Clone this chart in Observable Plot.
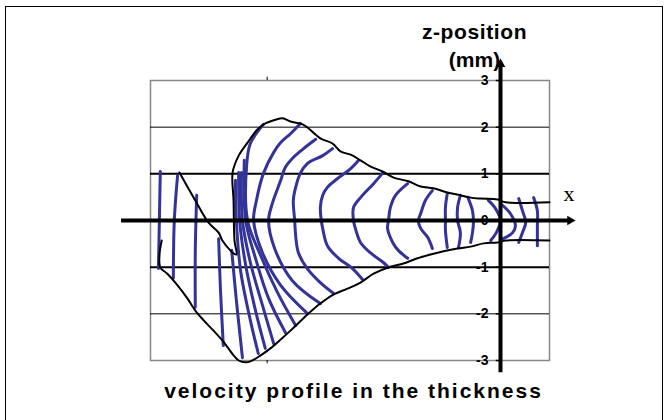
<!DOCTYPE html>
<html><head><meta charset="utf-8">
<script src="https://cdn.jsdelivr.net/npm/d3@7"></script>
<script src="https://cdn.jsdelivr.net/npm/@observablehq/plot@0.6"></script>
<style>
html,body{margin:0;padding:0;background:#fff;overflow:hidden;}
#wrap{position:relative;width:668px;height:420px;overflow:hidden;}
#border{position:absolute;left:5px;top:6px;width:658px;height:440px;border:1px solid #000;box-sizing:border-box;pointer-events:none;}
#chart svg{display:block;}
</style></head><body>
<div id="wrap"><div id="chart"></div><div id="border"></div></div>
<script>
// ---- axis / tick data ----
const zTicks = [3, 2, 1, 0, -1, -2, -3];
const gridMajor = [1, -1];
const gridMinor = [2, -2];
const xTicks = [-5];
const xDomain = [-7.5, 1.05];
const zDomain = [-3, 3];
const xAxisExtent = [-8.12, 1.49];
const zAxisExtent = [-3.26, 3.35];

// ---- velocity profiles (x, z in mm) ----
const sideProfiles = [
  [[-7.29,1.05],[-7.31,0],[-7.33,-1.03]],
  [[-6.92,0.96],[-6.99,0],[-7.01,-1.24]],
  [[-6.51,0.54],[-6.54,-0.64],[-6.54,-1.86]],
  [[-6.04,-0.39],[-6.00,-1.50],[-5.94,-2.68]],
  [[-5.76,-0.64],[-5.66,-1.71],[-5.53,-2.94]]
];
const fanProfiles = [
  [[-5.68,0.86],[-5.66,0],[-5.57,-1.07],[-5.36,-2.14],[-5.19,-2.85]],
  [[-5.61,1.03],[-5.59,0],[-5.46,-0.96],[-5.25,-1.93],[-5.04,-2.74]],
  [[-5.55,1.03],[-5.53,0],[-5.36,-0.90],[-5.10,-1.82],[-4.86,-2.64]],
  [[-5.49,1.29],[-5.46,0],[-5.25,-0.81],[-4.97,-1.67],[-4.61,-2.40]],
  [[-5.08,2.06],[-5.36,1.65],[-5.44,1.18],[-5.42,0],[-5.14,-0.75],[-4.78,-1.54],[-4.39,-2.25]],
  [[-4.29,2.08],[-4.50,1.86],[-4.71,1.67],[-4.86,1.46],[-5.08,1.01],[-5.23,0.43],[-5.29,0],[-5.10,-0.69],[-4.71,-1.39],[-4.14,-1.99]],
  [[-3.96,1.74],[-4.22,1.54],[-4.44,1.35],[-4.61,1.14],[-4.71,0.86],[-4.89,0.36],[-4.97,0],[-4.84,-0.60],[-4.46,-1.29],[-3.86,-1.78]]
];
const archProfiles = [
  [[-3.60,1.54],[-3.81,1.39],[-4.14,1.22],[-4.29,1.01],[-4.39,0.71],[-4.44,0.43],[-4.41,0],[-4.39,-0.32],[-4.33,-0.69],[-4.14,-1.03],[-3.86,-1.33],[-3.58,-1.56]],
  [[-3.04,1.29],[-3.21,1.11],[-3.49,0.90],[-3.71,0.71],[-3.81,0.54],[-3.86,0.28],[-3.84,0],[-3.81,-0.17],[-3.71,-0.54],[-3.47,-0.81],[-3.17,-1.03],[-2.96,-1.26]],
  [[-2.53,1.01],[-2.72,0.79],[-3.00,0.49],[-3.15,0.28],[-3.15,0],[-3.11,-0.17],[-3.00,-0.47],[-2.79,-0.69],[-2.51,-0.90],[-2.40,-1.01]],
  [[-1.99,0.79],[-2.25,0.54],[-2.36,0.28],[-2.40,0],[-2.42,-0.17],[-2.31,-0.47],[-2.19,-0.64],[-1.99,-0.81]],
  [[-1.46,0.64],[-1.61,0.43],[-1.71,0.15],[-1.76,0],[-1.71,-0.17],[-1.56,-0.36],[-1.46,-0.60]],
  [[-1.14,0.58],[-1.18,0.28],[-1.18,0],[-1.18,-0.21],[-1.14,-0.58]],
  [[-0.86,0.54],[-0.92,0.28],[-0.92,0],[-0.86,-0.26],[-0.90,-0.58]]
];
const tipProfiles = [
  [[-0.69,0.47],[-0.60,0.21],[-0.58,-0.04],[-0.60,-0.26],[-0.64,-0.47]],
  [[-0.26,0.43],[-0.11,0.26],[0,0],[-0.09,-0.26],[-0.21,-0.43]],
  [[0,0.36],[0.21,0.15],[0.32,-0.11],[0.26,-0.26],[0.06,-0.39]],
  [[0.39,0.47],[0.47,0.21],[0.54,-0.04],[0.47,-0.26],[0.39,-0.47]],
  [[0.71,0.49],[0.79,0.21],[0.79,-0.11],[0.79,-0.54]]
];

// ---- part outline (x, z in mm) ----
const outlineTop = [
  [-6.88,1.03],[-6.54,0.43],[-6.26,-0.04],[-6.04,-0.26],[-5.96,-0.43],[-5.79,-0.64],[-5.66,-0.73],
  [-5.70,-0.43],[-5.72,0.43],[-5.74,1.03],[-5.61,1.39],[-5.42,1.67],[-5.21,1.95],[-5.04,2.08],
  [-4.82,2.16],[-4.67,2.19],[-4.50,2.12],[-4.24,2.06],[-4.11,1.97],[-3.86,1.76],[-3.60,1.65],
  [-3.43,1.48],[-3.21,1.41],[-3.00,1.29],[-2.79,1.16],[-2.53,1.05],[-2.29,0.92],[-1.97,0.84],
  [-1.71,0.73],[-1.44,0.69],[-1.14,0.60],[-0.86,0.54],[-0.64,0.49],[-0.43,0.47],[-0.06,0.45],
  [0.11,0.39],[1.05,0.39]
];
const outlineBottom = [
  [1.05,-0.43],[0.11,-0.43],[-0.06,-0.47],[-0.36,-0.49],[-0.64,-0.56],[-0.92,-0.60],[-1.22,-0.66],
  [-1.50,-0.73],[-1.78,-0.81],[-2.08,-0.92],[-2.36,-0.99],[-2.72,-1.14],[-3.00,-1.33],[-3.28,-1.46],
  [-3.58,-1.59],[-3.86,-1.78],[-4.11,-1.99],[-4.29,-2.16],[-4.50,-2.36],[-4.71,-2.55],[-4.93,-2.74],
  [-5.14,-2.89],[-5.36,-3.02],[-5.46,-3.04],[-5.61,-3.00],[-5.72,-2.89],[-5.83,-2.74],[-5.96,-2.57],
  [-6.15,-2.36],[-6.36,-2.14],[-6.54,-1.93],[-6.71,-1.67],[-6.92,-1.39],[-7.14,-1.14],[-7.29,-1.01],
  [-7.31,-0.75],[-7.26,-0.43]
];

const titleLines = ["z-position", "(mm)"];
const captionText = "velocity profile in the thickness";
const xLabel = "x";

const profiles = [...sideProfiles, ...fanProfiles, ...archProfiles, ...tipProfiles];
const profileRows = profiles.flatMap((pts, i) => pts.map(([x, z]) => ({id: i, x, z})));

const BLUE = "#333399";
const SANS = "Liberation Sans, Arial, sans-serif";

const plot = Plot.plot({
  width: 668, height: 420,
  marginLeft: 150, marginRight: 119, marginTop: 80, marginBottom: 60,
  x: {domain: xDomain, axis: null},
  y: {domain: zDomain, axis: null},
  style: {background: "white", overflow: "visible"},
  marks: [
    Plot.frame({stroke: "#888", strokeWidth: 1.5}),
    Plot.ruleY(gridMinor, {stroke: "black", strokeWidth: 1}),
    Plot.ruleY(gridMajor, {stroke: "black", strokeWidth: 2}),
    Plot.ruleX(xTicks, {y1: 3, y2: 3.07, stroke: "black", strokeWidth: 1}),
    Plot.ruleX(xTicks, {y1: -3, y2: -3.07, stroke: "black", strokeWidth: 1}),
    Plot.line(profileRows, {x: "x", y: "z", z: "id", stroke: BLUE, strokeWidth: 3, curve: "catmull-rom", strokeLinecap: "round"}),
    Plot.line(outlineTop, {x: d => d[0], y: d => d[1], stroke: "black", strokeWidth: 2, curve: "catmull-rom"}),
    Plot.line(outlineBottom, {x: d => d[0], y: d => d[1], stroke: "black", strokeWidth: 2, curve: "catmull-rom"}),
    // axes
    Plot.ruleY([0], {x1: xAxisExtent[0], x2: xAxisExtent[1], stroke: "black", strokeWidth: 4}),
    Plot.ruleX([0], {y1: zAxisExtent[0], y2: zAxisExtent[1], stroke: "black", strokeWidth: 4}),
    Plot.dot([0], {x: xAxisExtent[1], y: 0, symbol: "triangle", r: 3.6, fill: "black", stroke: "none", rotate: 90}),
    Plot.dot([0], {x: 0, y: zAxisExtent[1], symbol: "triangle", r: 3.6, fill: "black", stroke: "none"}),
    Plot.ruleY(zTicks, {x1: -0.09, x2: 0, stroke: "black", strokeWidth: 1.5}),
    Plot.text(zTicks, {x: 0, y: d => d, text: d => String(d), textAnchor: "end", lineAnchor: "middle", dx: -12, fontSize: 14, fontWeight: "bold", fontFamily: SANS, fill: "black"}),
    Plot.text([titleLines[0]], {frameAnchor: "top", lineAnchor: "middle", text: d => d, dx: 124.5, dy: -48.7, fontSize: 21, fontWeight: "bold", fontFamily: SANS, fill: "black"}),
    Plot.text([titleLines[1]], {frameAnchor: "top", lineAnchor: "middle", text: d => d, dx: 124.5, dy: -20.7, fontSize: 21, fontWeight: "bold", fontFamily: SANS, fill: "black"}),
    Plot.text([captionText], {frameAnchor: "bottom", lineAnchor: "middle", text: d => d, dx: 3.5, dy: 30.3, fontSize: 21, fontWeight: "bold", fontFamily: SANS, fill: "black"}),
    Plot.text([xLabel], {frameAnchor: "right", lineAnchor: "middle", text: d => d, dx: 19.5, dy: -27, fontSize: 22, fontFamily: "Liberation Serif, Times New Roman, serif", fill: "black", textAnchor: "middle"})
  ]
});

plot.querySelectorAll("text").forEach(t => {
  const s = t.textContent;
  if (s === captionText) t.style.letterSpacing = "2px";
  else if (s === titleLines[0]) t.style.letterSpacing = "0.6px";
});

document.getElementById("chart").appendChild(plot);
</script></body></html>
